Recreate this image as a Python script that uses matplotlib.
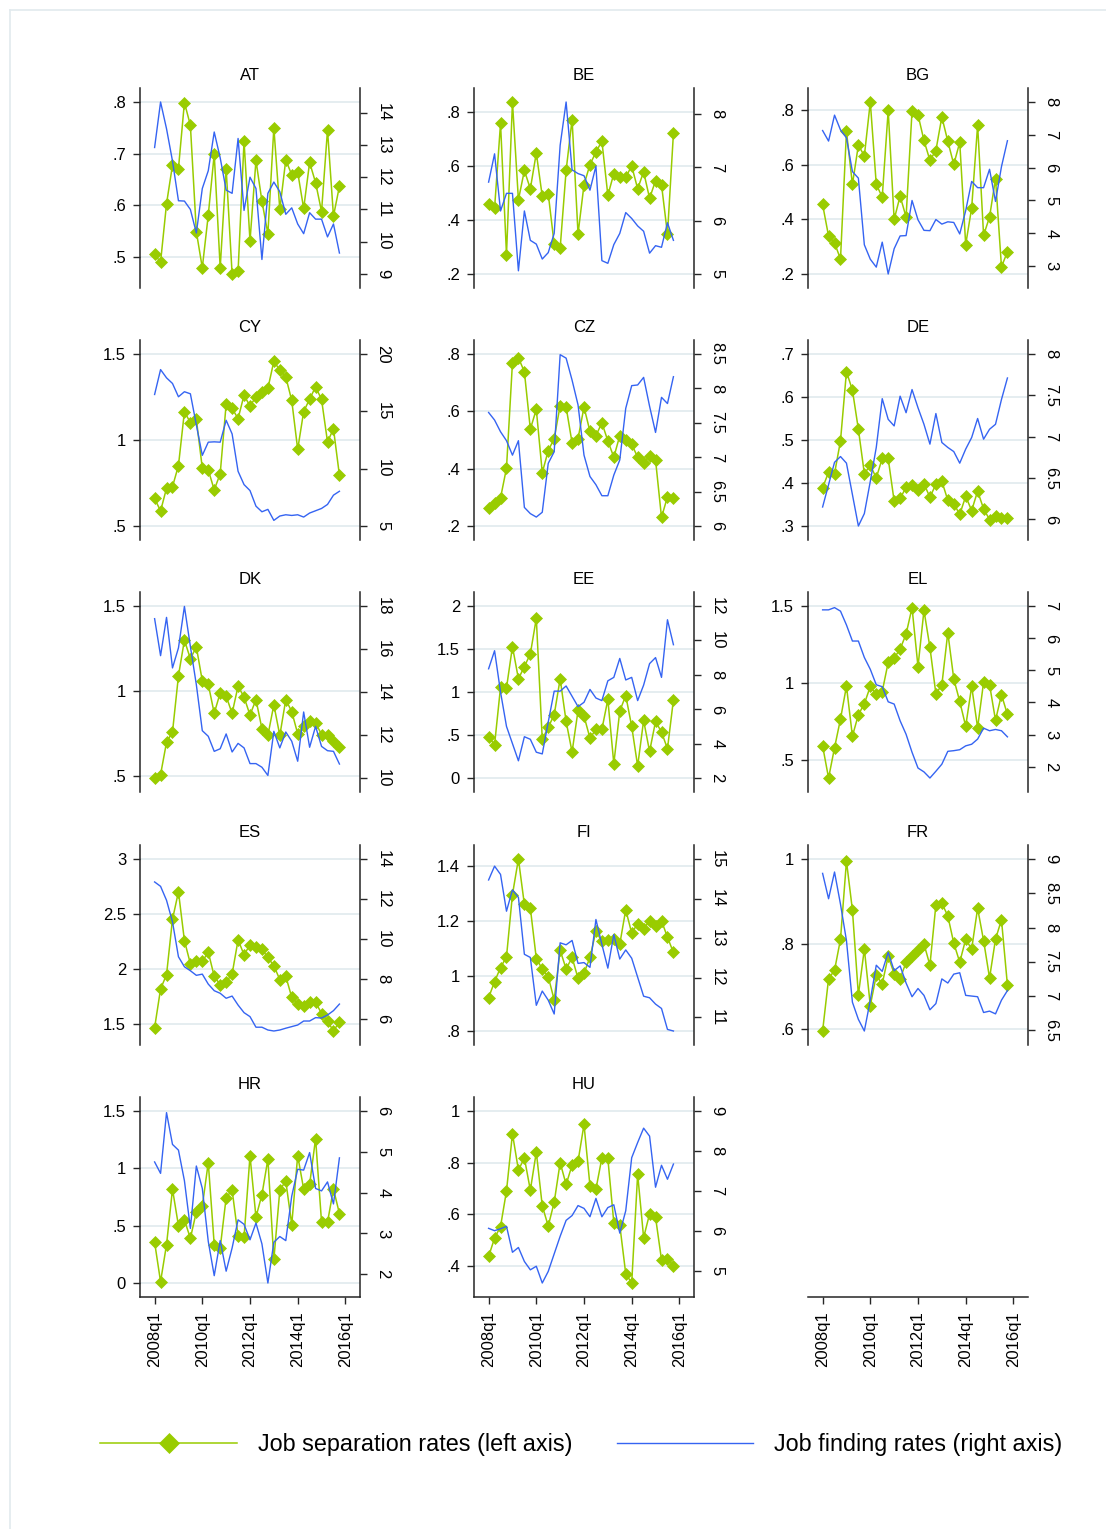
import matplotlib
matplotlib.use("Agg")
import matplotlib.pyplot as plt
from matplotlib.lines import Line2D

plt.rcParams['font.family'] = ['Liberation Sans', 'DejaVu Sans']

# Quarterly index 2008q1 .. 2015q4
N_Q = 32
XTICK_POS = [0, 8, 16, 24, 32]
XTICK_LABELS = ["2008q1", "2010q1", "2012q1", "2014q1", "2016q1"]

COUNTRIES = ["AT", "BE", "BG", "CY", "CZ", "DE", "DK", "EE", "EL",
             "ES", "FI", "FR", "HR", "HU"]

# Job separation rates (left axis)
sep_AT = [.505, .490, .603, .678, .671, .799, .755, .549, .479, .581, .699, .479, .671, .467, .472, .724,
          .531, .687, .608, .545, .750, .592, .688, .659, .664, .594, .683, .644, .588, .746, .579, .637]
sep_BE = [.458, .444, .759, .272, .838, .475, .584, .516, .649, .488, .498, .311, .296, .584, .773, .349,
          .531, .606, .652, .693, .492, .572, .559, .559, .601, .516, .579, .481, .546, .531, .348, .722]
sep_BG = [.455, .339, .314, .255, .723, .529, .673, .633, .831, .529, .482, .800, .400, .486, .409, .798,
          .784, .690, .617, .653, .776, .687, .602, .683, .308, .442, .746, .342, .409, .550, .226, .282]
sep_CY = [.660, .587, .720, .729, .851, 1.165, 1.101, 1.120, .837, .826, .710, .804, 1.209, 1.184, 1.124, 1.261,
          1.197, 1.251, 1.280, 1.300, 1.458, 1.406, 1.367, 1.230, .945, 1.165, 1.238, 1.309, 1.236, .989, 1.065, .795]
sep_CZ = [.263, .281, .298, .402, .770, .787, .738, .538, .607, .386, .463, .505, .620, .615, .490, .505,
          .615, .530, .515, .560, .497, .440, .515, .500, .485, .440, .420, .445, .430, .230, .302, .299]
sep_DE = [.389, .425, .422, .498, .659, .616, .525, .422, .441, .412, .457, .457, .358, .364, .390, .395,
          .383, .398, .367, .397, .404, .360, .352, .327, .369, .336, .381, .340, .315, .323, .318, .318]
sep_DK = [.490, .510, .700, .760, 1.090, 1.300, 1.190, 1.260, 1.060, 1.040, .870, .990, .970, .870, 1.030, .965,
          .860, .950, .780, .740, .920, .740, .950, .880, .750, .795, .825, .815, .745, .745, .710, .670]
sep_EE = [.476, .387, 1.056, 1.048, 1.528, 1.153, 1.296, 1.443, 1.857, .449, .590, .735, 1.153, .658, .302, .785,
          .720, .464, .565, .565, .913, .166, .778, .959, .600, .139, .669, .309, .658, .534, .340, .909]
sep_EL = [.594, .386, .582, .768, .981, .657, .796, .867, .979, .927, .946, 1.135, 1.163, 1.221, 1.318, 1.489,
          1.107, 1.472, 1.232, .931, .989, 1.328, 1.028, .882, .721, .979, .712, 1.006, .991, .760, .925, .798]
sep_ES = [1.467, 1.819, 1.949, 2.452, 2.702, 2.259, 2.048, 2.069, 2.069, 2.154, 1.934, 1.858, 1.883, 1.955, 2.265, 2.130,
          2.220, 2.199, 2.181, 2.105, 2.030, 1.904, 1.934, 1.744, 1.684, 1.663, 1.699, 1.699, 1.596, 1.527, 1.437, 1.521]
sep_FI = [.921, .979, 1.030, 1.069, 1.295, 1.424, 1.259, 1.246, 1.063, 1.025, .997, .913, 1.093, 1.025, 1.067, .991,
          1.010, 1.067, 1.162, 1.125, 1.130, 1.135, 1.115, 1.240, 1.155, 1.190, 1.170, 1.200, 1.180, 1.200, 1.140, 1.085]
sep_FR = [.595, .718, .738, .811, .995, .880, .680, .788, .655, .726, .706, .771, .730, .718, .757, .771,
          .785, .800, .750, .892, .896, .866, .802, .757, .811, .788, .884, .808, .720, .811, .857, .703]
sep_HR = [.355, .012, .335, .818, .500, .550, .390, .620, .670, 1.050, .335, .305, .745, .810, .410, .400,
          1.110, .575, .770, 1.080, .205, .810, .890, .510, 1.110, .820, .860, 1.260, .530, .530, .820, .605]
sep_HU = [.436, .507, .552, .690, .912, .771, .818, .693, .841, .632, .554, .646, .800, .715, .790, .805,
          .948, .710, .697, .818, .816, .567, .558, .369, .333, .755, .509, .601, .588, .423, .426, .400]

# Job finding rates (right axis)
find_AT = [12.92, 14.33, 13.50, 12.50, 11.27, 11.26, 11.00, 10.27, 11.65, 12.20, 13.40, 12.60, 11.60, 11.50, 13.20, 10.97,
           12.00, 11.65, 9.45, 11.50, 11.85, 11.55, 10.85, 11.05, 10.55, 10.25, 10.90, 10.70, 10.70, 10.15, 10.55, 9.65]
find_BE = [6.72, 7.25, 6.18, 6.51, 6.51, 5.06, 6.18, 5.63, 5.56, 5.28, 5.40, 5.76, 7.41, 8.22, 6.95, 6.88,
           6.84, 6.57, 7.02, 5.25, 5.20, 5.55, 5.76, 6.15, 6.04, 5.90, 5.80, 5.39, 5.53, 5.50, 5.96, 5.63]
find_BG = [7.13, 6.81, 7.60, 7.15, 6.91, 5.88, 5.68, 3.65, 3.21, 2.97, 3.73, 2.76, 3.53, 3.92, 3.93, 5.00,
           4.41, 4.09, 4.08, 4.42, 4.28, 4.35, 4.33, 3.98, 4.69, 5.58, 5.39, 5.39, 5.95, 4.97, 6.03, 6.82]
find_CY = [16.47, 18.64, 17.92, 17.43, 16.27, 16.71, 16.53, 13.82, 11.16, 12.31, 12.34, 12.31, 14.22, 13.03, 9.77, 8.61,
           8.09, 6.73, 6.24, 6.45, 5.49, 5.87, 5.98, 5.92, 5.98, 5.78, 6.13, 6.33, 6.53, 6.88, 7.69, 8.03]
find_CZ = [7.65, 7.54, 7.37, 7.24, 7.03, 7.24, 6.27, 6.18, 6.13, 6.20, 6.91, 7.08, 8.49, 8.44, 8.12, 7.76,
           7.03, 6.72, 6.60, 6.44, 6.44, 6.74, 6.96, 7.71, 8.04, 8.05, 8.16, 7.74, 7.36, 7.87, 7.78, 8.17]
find_DE = [6.15, 6.42, 6.69, 6.76, 6.68, 6.30, 5.92, 6.07, 6.46, 6.87, 7.46, 7.21, 7.13, 7.49, 7.29, 7.57,
           7.35, 7.15, 6.91, 7.28, 6.93, 6.87, 6.82, 6.68, 6.85, 6.99, 7.22, 6.97, 7.09, 7.15, 7.45, 7.71]
find_DK = [17.41, 15.69, 17.47, 15.12, 16.05, 17.98, 16.12, 14.34, 12.20, 11.94, 11.24, 11.36, 12.05, 11.21, 11.61, 11.40,
           10.67, 10.67, 10.50, 10.12, 12.17, 11.40, 12.14, 11.71, 10.78, 13.07, 11.43, 12.40, 11.47, 11.27, 11.24, 10.65]
find_EE = [8.35, 9.40, 7.00, 5.00, 4.00, 3.00, 4.40, 4.25, 3.50, 3.40, 5.25, 7.05, 7.05, 7.35, 6.75, 6.15,
           6.40, 7.15, 6.65, 6.50, 7.65, 7.85, 8.95, 7.70, 7.85, 6.50, 7.40, 8.65, 9.00, 7.85, 11.20, 9.75]
find_EL = [6.88, 6.88, 6.95, 6.84, 6.41, 5.91, 5.91, 5.40, 5.03, 4.55, 4.49, 4.02, 3.95, 3.43, 3.01, 2.45,
           1.96, 1.84, 1.65, 1.86, 2.08, 2.48, 2.50, 2.53, 2.65, 2.70, 2.86, 3.20, 3.12, 3.16, 3.12, 2.93]
find_ES = [12.85, 12.63, 11.93, 10.85, 9.10, 8.60, 8.40, 8.17, 8.23, 7.73, 7.40, 7.27, 7.02, 7.13, 6.68, 6.30,
           6.10, 5.57, 5.57, 5.43, 5.38, 5.43, 5.52, 5.60, 5.68, 5.88, 5.88, 6.05, 6.03, 6.18, 6.40, 6.73]
find_FI = [14.47, 14.82, 14.61, 13.68, 14.22, 14.03, 12.59, 12.51, 11.30, 11.66, 11.43, 11.08, 12.88, 12.83, 12.94, 12.36,
           12.38, 12.26, 13.47, 12.84, 12.24, 13.09, 12.47, 12.70, 12.49, 12.01, 11.53, 11.49, 11.33, 11.22, 10.69, 10.65]
find_FR = [8.79, 8.42, 8.81, 8.34, 7.81, 6.91, 6.66, 6.49, 6.94, 7.45, 7.36, 7.64, 7.37, 7.44, 7.19, 6.99,
           7.11, 7.01, 6.80, 6.89, 7.25, 7.19, 7.32, 7.34, 7.01, 7.00, 6.99, 6.76, 6.78, 6.74, 6.94, 7.08]
find_HR = [4.75, 4.47, 5.96, 5.18, 5.04, 4.29, 3.12, 4.65, 4.10, 2.80, 1.96, 2.82, 2.07, 2.64, 3.33, 3.22,
           2.84, 3.25, 2.74, 1.78, 2.78, 2.92, 2.82, 3.91, 4.57, 4.55, 4.98, 4.10, 4.04, 4.26, 3.72, 4.85]
find_HU = [6.06, 6.00, 6.05, 6.11, 5.46, 5.58, 5.23, 5.02, 5.11, 4.69, 4.98, 5.42, 5.86, 6.26, 6.38, 6.63,
           6.56, 6.35, 6.81, 6.35, 6.58, 6.65, 5.94, 6.50, 7.83, 8.21, 8.57, 8.37, 7.09, 7.64, 7.29, 7.67]

# Axis tick values per country
lticks_AT, rticks_AT = [.5, .6, .7, .8], [9, 10, 11, 12, 13, 14]
lticks_BE, rticks_BE = [.2, .4, .6, .8], [5, 6, 7, 8]
lticks_BG, rticks_BG = [.2, .4, .6, .8], [3, 4, 5, 6, 7, 8]
lticks_CY, rticks_CY = [.5, 1, 1.5], [5, 10, 15, 20]
lticks_CZ, rticks_CZ = [.2, .4, .6, .8], [6, 6.5, 7, 7.5, 8, 8.5]
lticks_DE, rticks_DE = [.3, .4, .5, .6, .7], [6, 6.5, 7, 7.5, 8]
lticks_DK, rticks_DK = [.5, 1, 1.5], [10, 12, 14, 16, 18]
lticks_EE, rticks_EE = [0, .5, 1, 1.5, 2], [2, 4, 6, 8, 10, 12]
lticks_EL, rticks_EL = [.5, 1, 1.5], [2, 3, 4, 5, 6, 7]
lticks_ES, rticks_ES = [1.5, 2, 2.5, 3], [6, 8, 10, 12, 14]
lticks_FI, rticks_FI = [.8, 1, 1.2, 1.4], [11, 12, 13, 14, 15]
lticks_FR, rticks_FR = [.6, .8, 1], [6.5, 7, 7.5, 8, 8.5, 9]
lticks_HR, rticks_HR = [0, .5, 1, 1.5], [2, 3, 4, 5, 6]
lticks_HU, rticks_HU = [.4, .6, .8, 1], [5, 6, 7, 8, 9]

g = globals()
panels = {c: dict(sep=g["sep_" + c], find=g["find_" + c],
                  lt=g["lticks_" + c], rt=g["rticks_" + c]) for c in COUNTRIES}

GREEN = "#99cc00"
BLUE = "#3564f2"
GRID = "#e3ecef"
AXC = "#262626"

W, H = 1106, 1529
COL_X = [140, 474, 808]
ROW_TOP = [88, 340, 592, 845, 1097]
AX_W, AX_H = 220, 200
MARGIN = 14.0 / 172.0
X_LO, X_HI = -2.45, 34.45
TICK_FS = 12


def fmt(v):
    s = f"{v:g}"
    if s.startswith("0."):
        s = s[1:]
    return s


def yrange(vals, ticks):
    lo = min(min(vals), min(ticks))
    hi = max(max(vals), max(ticks))
    span = hi - lo
    return lo - MARGIN * span, hi + MARGIN * span


def rect(col, row):
    return [COL_X[col] / W, 1 - (ROW_TOP[row] + AX_H) / H, AX_W / W, AX_H / H]


def time_axis(a):
    a.spines["bottom"].set_visible(True)
    a.spines["bottom"].set_color(AXC)
    a.spines["bottom"].set_linewidth(1.1)
    a.set_xticks(XTICK_POS)
    a.set_xticklabels(XTICK_LABELS, rotation=90, fontsize=TICK_FS)
    a.tick_params(axis="x", length=5, width=1, color=AXC, pad=5)


fig = plt.figure(figsize=(W / 100, H / 100), dpi=100)

# light outer frame of the graph region
fig.add_artist(Line2D([10 / W, 10 / W], [0, 1 - 10 / H], transform=fig.transFigure,
                      color="#e2eaee", lw=1.2))
fig.add_artist(Line2D([10 / W, 1], [1 - 10 / H, 1 - 10 / H], transform=fig.transFigure,
                      color="#e2eaee", lw=1.2))

x = list(range(N_Q))
handles = None

for i, c in enumerate(COUNTRIES):
    row, col = divmod(i, 3)
    p = panels[c]
    ax = fig.add_axes(rect(col, row))
    ax2 = ax.twinx()

    g_line, = ax.plot(x, p["sep"], color=GREEN, lw=1.1, marker="D", ms=6.3,
                      mfc=GREEN, mec=GREEN, mew=0.5, zorder=3)
    b_line, = ax2.plot(x, p["find"], color=BLUE, lw=1.0, zorder=3)
    handles = (g_line, b_line)

    ax.set_xlim(X_LO, X_HI)
    ax.set_ylim(*yrange(p["sep"], p["lt"]))
    ax2.set_ylim(*yrange(p["find"], p["rt"]))

    ax.set_yticks(p["lt"])
    ax.set_yticklabels([fmt(v) for v in p["lt"]], fontsize=TICK_FS)
    ax2.set_yticks(p["rt"])
    ax2.set_yticklabels([fmt(v) for v in p["rt"]], fontsize=TICK_FS,
                        rotation=-90, va="center", ha="left")

    ax.grid(axis="y", color=GRID, lw=1.3)
    ax.set_axisbelow(True)

    for s in ("top", "right", "bottom"):
        ax.spines[s].set_visible(False)
    for s in ("top", "left", "bottom"):
        ax2.spines[s].set_visible(False)
    ax.spines["left"].set_color(AXC)
    ax.spines["left"].set_linewidth(1.1)
    ax2.spines["right"].set_color(AXC)
    ax2.spines["right"].set_linewidth(1.1)

    ax.tick_params(axis="y", length=5, width=1, color=AXC, pad=5)
    ax2.tick_params(axis="y", length=5, width=1, color=AXC, pad=6)
    ax2.tick_params(axis="x", bottom=False, labelbottom=False, top=False, labeltop=False)

    if row == 4:
        time_axis(ax)
    else:
        ax.tick_params(axis="x", bottom=False, labelbottom=False)

    ax.set_title(c, fontsize=TICK_FS, pad=6)

# empty slot carrying only the time axis
axe = fig.add_axes(rect(2, 4))
axe.set_xlim(X_LO, X_HI)
axe.set_yticks([])
for s in ("top", "right", "left"):
    axe.spines[s].set_visible(False)
time_axis(axe)
axe.patch.set_visible(False)

fig.legend(handles, ["Job separation rates (left axis)", "Job finding rates (right axis)"],
           loc="center", bbox_to_anchor=(0.5258, 1 - 1445 / H), ncol=2, frameon=False,
           fontsize=16.8, handlelength=5.85, handletextpad=0.9, columnspacing=1.9,
           numpoints=1, markerscale=1.55)

fig.savefig("out.png", dpi=100, facecolor="white")
